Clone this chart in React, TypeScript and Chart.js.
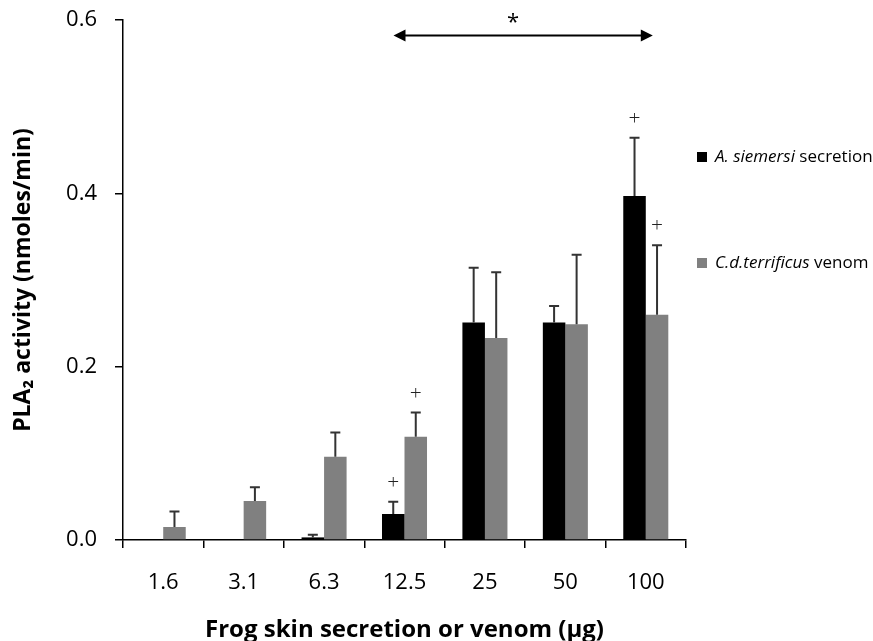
import React, { useEffect, useRef } from "react";
import { Chart, registerables } from "chart.js";

Chart.register(...registerables);

const categories = ["1.6", "3.1", "6.3", "12.5", "25", "50", "100"];
const siemersiValues = [0, 0, 0.003, 0.03, 0.251, 0.251, 0.397];
const siemersiErrors = [0, 0, 0.003, 0.014, 0.063, 0.019, 0.067];
const siemersiPlus = [false, false, false, true, false, false, true];
const venomValues = [0.015, 0.045, 0.096, 0.119, 0.233, 0.249, 0.26];
const venomErrors = [0.018, 0.016, 0.028, 0.028, 0.076, 0.08, 0.08];
const venomPlus = [false, false, false, true, false, false, true];
const yTicks = [0, 0.2, 0.4, 0.6];
const seriesNames = ["A. siemersi", "C.d.terrificus"];
const seriesSuffix = [" secretion", " venom"];
const arrowFrom = "12.5";
const arrowTo = "100";
const arrowLevel = 0.582;

const FONT = "'Open Sans', 'DejaVu Sans', sans-serif";

const errors = [siemersiErrors, venomErrors];
const pluses = [siemersiPlus, venomPlus];
const colors = ["#000000", "#808080"];

const annotationPlugin = {
  id: "annotations",
  afterDatasetsDraw(chart: any) {
    const ctx = chart.ctx;
    const y = chart.scales.y;
    const x = chart.scales.x;
    ctx.save();
    chart.data.datasets.forEach((ds: any, di: number) => {
      const meta = chart.getDatasetMeta(di);
      meta.data.forEach((bar: any, i: number) => {
        const v = ds.data[i];
        const e = errors[di][i];
        let topPx = bar.y;
        if (e > 0) {
          topPx = y.getPixelForValue(v + e);
          ctx.strokeStyle = "#333";
          ctx.lineWidth = 2;
          ctx.beginPath();
          ctx.moveTo(bar.x, bar.y);
          ctx.lineTo(bar.x, topPx);
          ctx.moveTo(bar.x - 5, topPx);
          ctx.lineTo(bar.x + 5, topPx);
          ctx.stroke();
        }
        if (pluses[di][i]) {
          ctx.fillStyle = "#222";
          ctx.font = `300 21px ${FONT}`;
          ctx.textAlign = "center";
          ctx.textBaseline = "middle";
          ctx.fillText("+", bar.x, topPx - 19);
        }
      });
    });
    // arrow
    const x1 = x.getPixelForValue(categories.indexOf(arrowFrom)) - 11;
    const x2 = x.getPixelForValue(categories.indexOf(arrowTo)) + 7;
    const ay = y.getPixelForValue(arrowLevel);
    ctx.strokeStyle = "#000";
    ctx.fillStyle = "#000";
    ctx.lineWidth = 2;
    ctx.beginPath();
    ctx.moveTo(x1 + 8, ay);
    ctx.lineTo(x2 - 8, ay);
    ctx.stroke();
    ctx.beginPath();
    ctx.moveTo(x1, ay);
    ctx.lineTo(x1 + 12, ay - 6);
    ctx.lineTo(x1 + 12, ay + 6);
    ctx.closePath();
    ctx.fill();
    ctx.beginPath();
    ctx.moveTo(x2, ay);
    ctx.lineTo(x2 - 12, ay - 6);
    ctx.lineTo(x2 - 12, ay + 6);
    ctx.closePath();
    ctx.fill();
    ctx.font = `22px ${FONT}`;
    ctx.textAlign = "center";
    ctx.textBaseline = "middle";
    ctx.fillText("*", (x1 + x2) / 2 - 10, ay - 13);

    // legend
    const lx = chart.chartArea.right + 11;
    const lys = [157, 263];
    seriesNames.forEach((name, i) => {
      ctx.fillStyle = colors[i];
      ctx.fillRect(lx, lys[i] - 5, 10, 10);
      ctx.fillStyle = "#000";
      ctx.textAlign = "left";
      ctx.textBaseline = "middle";
      ctx.font = `italic 17px ${FONT}`;
      ctx.fillText(name, lx + 18, lys[i]);
      const w = ctx.measureText(name).width;
      ctx.font = `17px ${FONT}`;
      ctx.fillText(seriesSuffix[i], lx + 18 + w, lys[i]);
    });
    ctx.restore();
  },
};

export default function App() {
  const ref = useRef<HTMLCanvasElement | null>(null);
  useEffect(() => {
    if (!ref.current) return;
    const chart = new Chart(ref.current, {
      type: "bar",
      data: {
        labels: categories,
        datasets: [
          {
            label: seriesNames[0] + seriesSuffix[0],
            data: siemersiValues,
            backgroundColor: colors[0],
            barPercentage: 1,
            categoryPercentage: 0.56,
          },
          {
            label: seriesNames[1] + seriesSuffix[1],
            data: venomValues,
            backgroundColor: colors[1],
            barPercentage: 1,
            categoryPercentage: 0.56,
          },
        ],
      },
      options: {
        animation: false,
        responsive: false,
        maintainAspectRatio: false,
        layout: { padding: { top: 20, right: 187, left: 0, bottom: 0 } },
        plugins: { legend: { display: false }, tooltip: { enabled: false } },
        scales: {
          x: {
            grid: {
              offset: true,
              drawOnChartArea: false,
              drawTicks: true,
              tickLength: 8,
              color: "#000",
              lineWidth: 1.5,
            },
            border: { display: true, color: "#000", width: 1.5 },
            ticks: {
              color: "#000",
              font: { family: FONT, size: 22 },
              padding: 22,
            },
            title: {
              display: true,
              text: "Frog skin secretion or venom (µg)",
              color: "#000",
              font: { family: FONT, size: 24, weight: "bold" },
              padding: { top: 0, bottom: -4 },
            },
            afterFit(scale: any) {
              scale.height = 101;
              scale.paddingLeft = 0;
              scale.paddingRight = 0;
            },
          },
          y: {
            min: 0,
            max: 0.6,
            afterBuildTicks(scale: any) {
              scale.ticks = yTicks.map((v) => ({ value: v }));
            },
            grid: {
              drawOnChartArea: false,
              drawTicks: true,
              tickLength: 8,
              color: "#000",
              lineWidth: 1.5,
            },
            border: { display: true, color: "#000", width: 1.5 },
            ticks: {
              color: "#000",
              font: { family: FONT, size: 22 },
              padding: 18,
              callback: (v: any) => Number(v).toFixed(1),
            },
            title: {
              display: true,
              text: "PLA₂ activity (nmoles/min)",
              color: "#000",
              font: { family: FONT, size: 23, weight: "bold" },
              padding: { top: 10, bottom: 0 },
            },
            afterFit(scale: any) {
              scale.width = 123;
              scale.paddingTop = 0;
              scale.paddingBottom = 0;
            },
          },
        },
      },
      plugins: [annotationPlugin],
    });
    return () => chart.destroy();
  }, []);
  return (
    <div style={{ position: "fixed", left: 0, top: 0, width: 873, height: 641, background: "#fff" }}>
      <canvas ref={ref} width={873} height={641} style={{ width: 873, height: 641 }} />
    </div>
  );
}
